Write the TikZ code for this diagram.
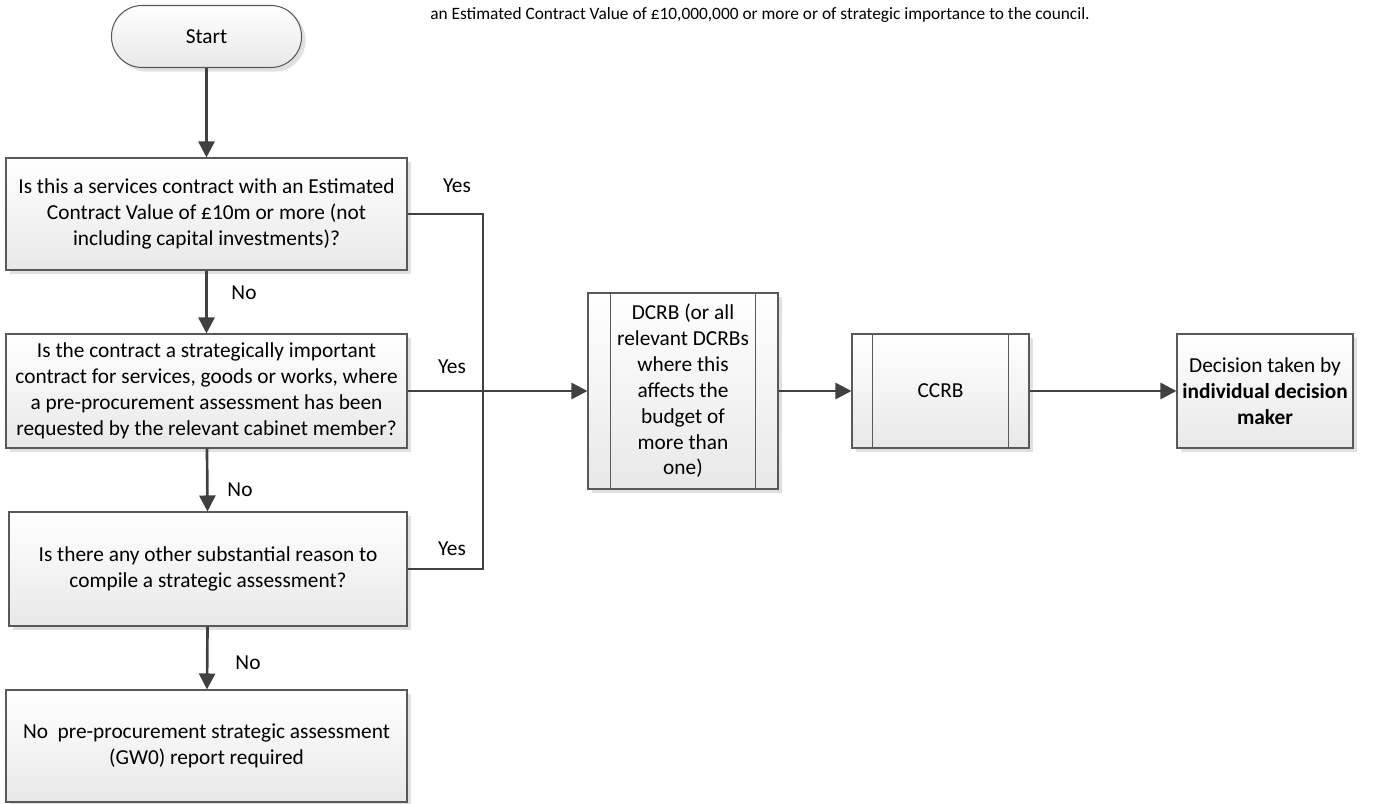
\documentclass[tikz,border=0pt]{standalone}
\usepackage{fontspec}
\setmainfont{Carlito}
\usepackage{tikz}
\usetikzlibrary{arrows.meta,shadows}

\begin{document}
\fontsize{16pt}{19.4pt}\selectfont
\begin{tikzpicture}
  [x=0.75pt,y=-0.75pt,
   box/.style={draw=black!65,line width=0.8pt,top color=white,bottom color=black!9,
     drop shadow={shadow xshift=3pt,shadow yshift=-3pt,fill=black!12,opacity=1},
     align=center,inner sep=0pt},
   link/.style={draw=black!75,line width=2pt},
   arrow/.style={link,-{Triangle[length=12pt,width=12pt]}}]
  \def\px{0.75pt}
  \useasboundingbox (0,0) rectangle (1399,803);
  \node[box,rounded corners=23pt,minimum width=190*\px,minimum height=62*\px]
    (start) at (206.5,36.5) {Start};
  \node[box,minimum width=401*\px,minimum height=112*\px] (q1) at (206.5,214)
    {Is this a services contract with an Estimated\\Contract Value of £10m or more (not\\including capital investments)?};
  \node[box,minimum width=401*\px,minimum height=114*\px] (q2) at (206.5,391)
    {Is the contract a strategically important\\contract for services, goods or works, where\\a pre-procurement assessment has been\\requested by the relevant cabinet member?};
  \node[box,minimum width=398*\px,minimum height=114*\px] (q3) at (208,569)
    {Is there any other substantial reason to\\compile a strategic assessment?};
  \node[box,minimum width=401*\px,minimum height=112*\px] (q4) at (206.5,746)
    {No\ \ pre-procurement strategic assessment\\(GW0) report required};
  \node[box,minimum width=190*\px,minimum height=196*\px] (dcrb) at (683,391)
    {DCRB (or all\\relevant DCRBs\\where this\\affects the\\budget of\\more than\\one)};
  \node[box,minimum width=177*\px,minimum height=114*\px] (ccrb) at (940.5,391) {CCRB};
  \node[box,minimum width=176*\px,minimum height=114*\px] (dec) at (1265,391)
    {Decision taken by\\\textbf{individual decision}\\\textbf{maker}};
  \node[anchor=west,inner sep=0pt,font=\fontsize{13pt}{16pt}\selectfont] (note) at (430,15)
    {an Estimated Contract Value of £10,000,000 or more or of strategic importance to the council.};
  % side bars of the predefined process boxes
  \foreach \n/\d in {dcrb/17pt,ccrb/16pt}
  \draw[draw=black!65,line width=0.8pt]
    ([xshift=\d]\n.north west)--([xshift=\d]\n.south west)
    ([xshift=-\d]\n.north east)--([xshift=-\d]\n.south east);
  % connectors
  \coordinate (J) at (483,391);
  \draw[arrow] (start)--(q1);
  \draw[arrow] (q1)--(q2);
  \draw[arrow] (q2)--(q3);
  \draw[arrow] (q3)--(q4);
  \draw[link] (q1.east)-|(J) (q3.east)-|(J);
  \draw[arrow] (q2.east)--(dcrb.west);
  \draw[arrow] (dcrb)--(ccrb);
  \draw[arrow] (ccrb)--(dec);
  % labels
  \foreach \t/\x/\y/\n in {No/244/293/no1,No/240/490/no2,No/248/663/no3,
    Yes/457/186/yes1,Yes/452/367/yes2,Yes/452/549/yes3}
  \node (\n) at (\x,\y) {\t};
\end{tikzpicture}
\end{document}
